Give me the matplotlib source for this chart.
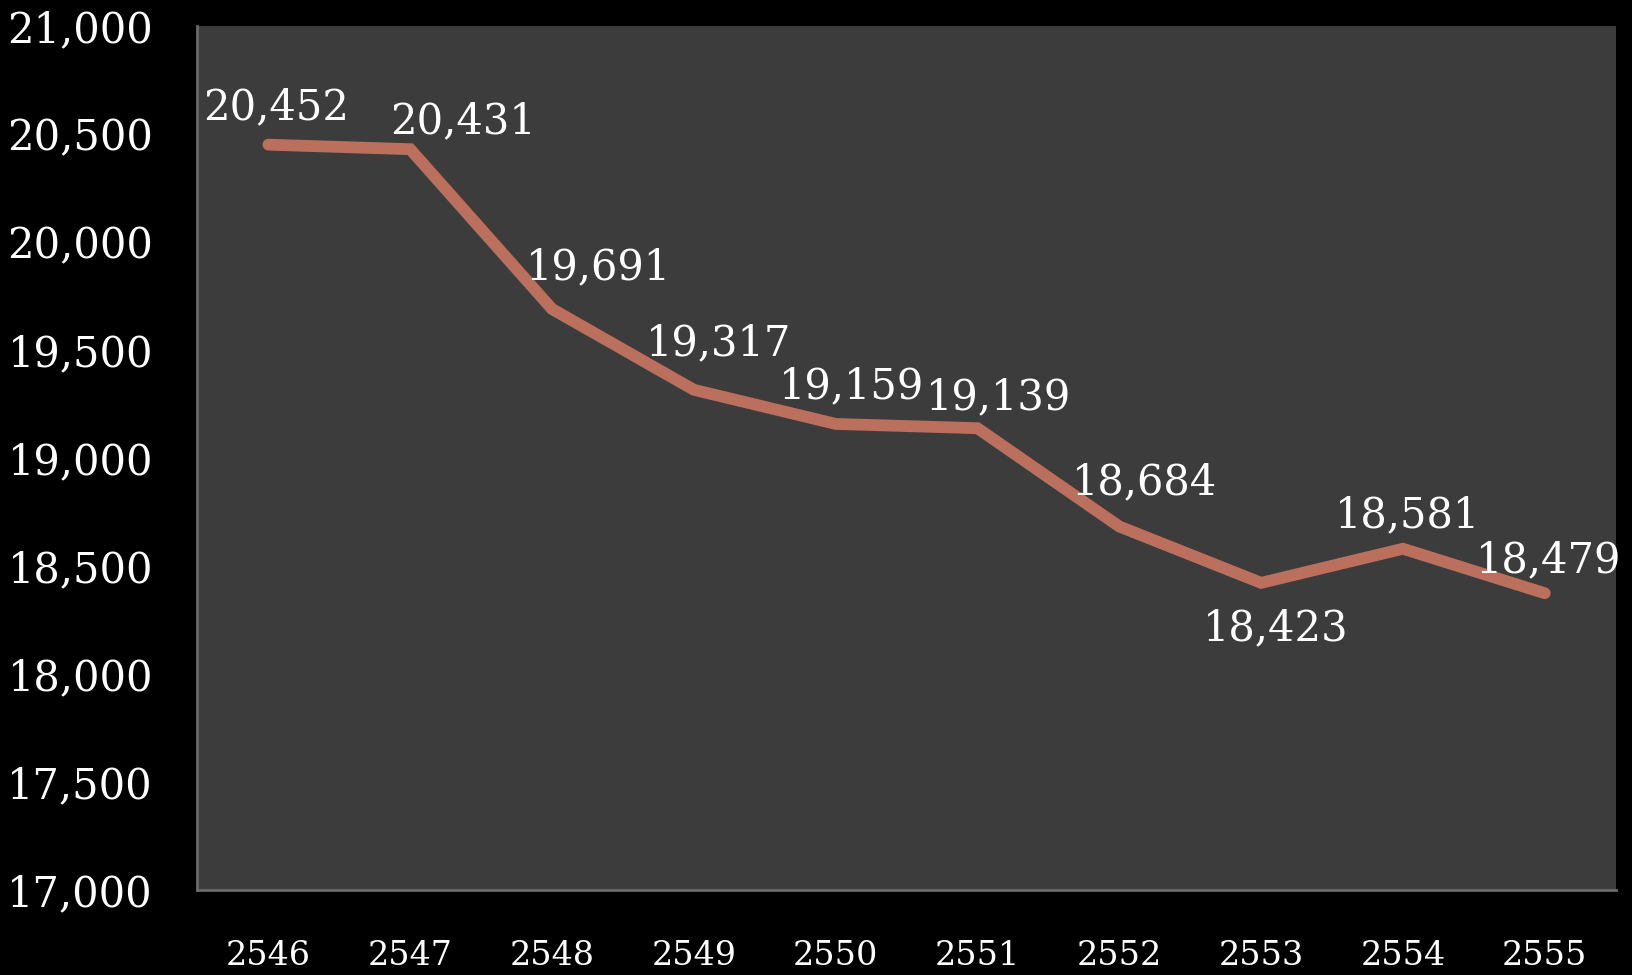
import numpy as np
import matplotlib.pyplot as plt
from matplotlib.ticker import FuncFormatter

years = ['2546', '2547', '2548', '2549', '2550', '2551', '2552', '2553', '2554', '2555']
# plotted values (the last point sits lower than its label says)
values = [20452, 20431, 19691, 19317, 19159, 19139, 18684, 18423, 18581, 18375]
point_labels = ['20,452', '20,431', '19,691', '19,317', '19,159', '19,139',
                '18,684', '18,423', '18,581', '18,479']

# label offsets in pixels (dx, dy)
offsets = [(8, 37), (53, 28), (46, 42), (25, 46), (16, 38), (21, 31),
           (25, 44), (15, -45), (5, 33), (4, 33)]

plt.rcParams['font.family'] = ['DejaVu Serif']

fig = plt.figure(figsize=(16.32, 9.75), dpi=100, facecolor='black')
ax = fig.add_axes([0.121, 0.087, 0.869, 0.886])
ax.set_facecolor('#3c3c3c')

x = np.arange(len(years))
ax.plot(x, values, color='#bb6f5d', linewidth=8.5, solid_capstyle='round',
        solid_joinstyle='miter')

for i in range(len(x)):
    dx, dy = offsets[i]
    ax.annotate(point_labels[i], (x[i], values[i]), xytext=(dx, dy),
                textcoords='offset pixels', ha='center', va='center',
                color='white', fontsize=30)

ax.set_xlim(-0.5, len(years) - 0.5)
ax.set_ylim(17000, 21000)
ax.set_yticks(np.arange(17000, 21001, 500))
ax.yaxis.set_major_formatter(FuncFormatter(lambda v, p: f'{int(v):,}'))
ax.set_xticks(x)
ax.set_xticklabels(years)

ax.tick_params(axis='y', length=0, pad=32, labelsize=30, labelcolor='white')
ax.tick_params(axis='x', length=0, pad=36, labelsize=24, labelcolor='white')

for s in ['top', 'right']:
    ax.spines[s].set_visible(False)
for s in ['left', 'bottom']:
    ax.spines[s].set_color('#6a6a6a')
    ax.spines[s].set_linewidth(2)

fig.savefig('out.png', dpi=100, facecolor='black')
